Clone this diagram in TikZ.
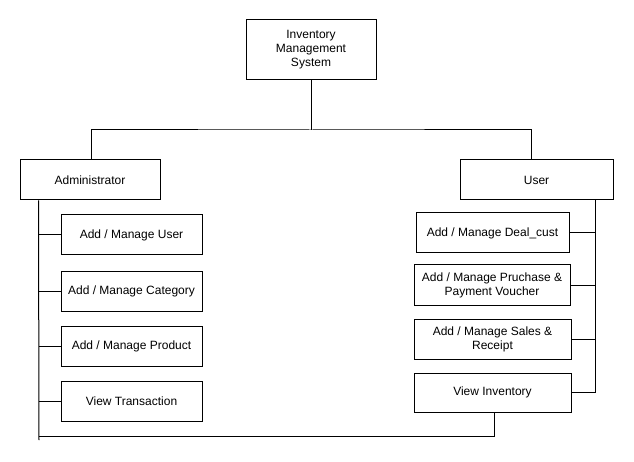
\documentclass[tikz,border=0pt]{standalone}
\usepackage{fontspec}
\setmainfont{Liberation Sans}
\usetikzlibrary{positioning,calc}

\begin{document}
\begin{tikzpicture}[x=1pt, y=-1pt,
    box/.style={draw=black, line width=1pt, align=center, inner sep=0pt, minimum height=40pt, font=\fontsize{12}{14}\selectfont},
    topBox/.style={box, minimum width=130pt, minimum height=60pt},
    roleBox/.style={box, minimum width=140pt},
    adminTask/.style={box, minimum width=141pt},
    userTask/.style={box, minimum width=155pt},
    link/.style={draw=black, line width=1pt}
]
\useasboundingbox (0,0) rectangle (634,462);
% top of the tree
\node[topBox] (ims) at (311,50) {Inventory\\Management\\ System};
\node[roleBox] (admin) at (90,180) {Administrator};
\node[roleBox, minimum width=153pt] (user) at (536.5,180) {User};
% administrator tasks
\node[adminTask] (aUser) at (131.5,235) {Add / Manage User};
\node[adminTask, below=15pt of aUser] (aCategory) {Add / Manage Category};
\node[adminTask, below=14.5pt of aCategory] (aProduct) {Add / Manage Product};
\node[adminTask, below=13.5pt of aProduct] (aTrans) {View Transaction};
% user tasks
\node[userTask, minimum width=153pt] (uDeal) at (492.5,233) {Add / Manage Deal\_cust};
\node[userTask, minimum width=156pt] (uPurchase) at (492,285) {Add / Manage Pruchase \&\\Payment Voucher};
\node[userTask, minimum width=157pt] (uSales) at (492.5,339.5) {Add / Manage Sales \&\\Receipt};
\node[userTask, minimum width=157pt, minimum height=39pt] (uInventory) at (492.5,392.5) {View Inventory};
% bus and trunks
\coordinate (bus) at (311,130);
\coordinate (aTop) at ([xshift=19pt]admin.south west);
\coordinate (aEnd) at (39,440);
\coordinate (aBottom) at (39,436);
\coordinate (uTop) at (595,200);
\draw[link] (ims.south) -- (bus);
\draw[link] ([xshift=1pt]admin.north) |- (bus) -| ([xshift=-5.5pt]user.north);
\draw[link] (aTop) -- (aEnd);
\draw[link] (uTop) -- (uInventory.east -| uTop);
\foreach \n in {aUser,aCategory,aProduct,aTrans}
  \draw[link] (\n.west) -- (\n.west -| aTop);
\foreach \n in {uDeal,uPurchase,uSales,uInventory}
  \draw[link] (\n.east) -- (\n.east -| uTop);
\draw[link] ([xshift=1.5pt]uInventory.south) |- (aBottom);
\end{tikzpicture}
\end{document}
